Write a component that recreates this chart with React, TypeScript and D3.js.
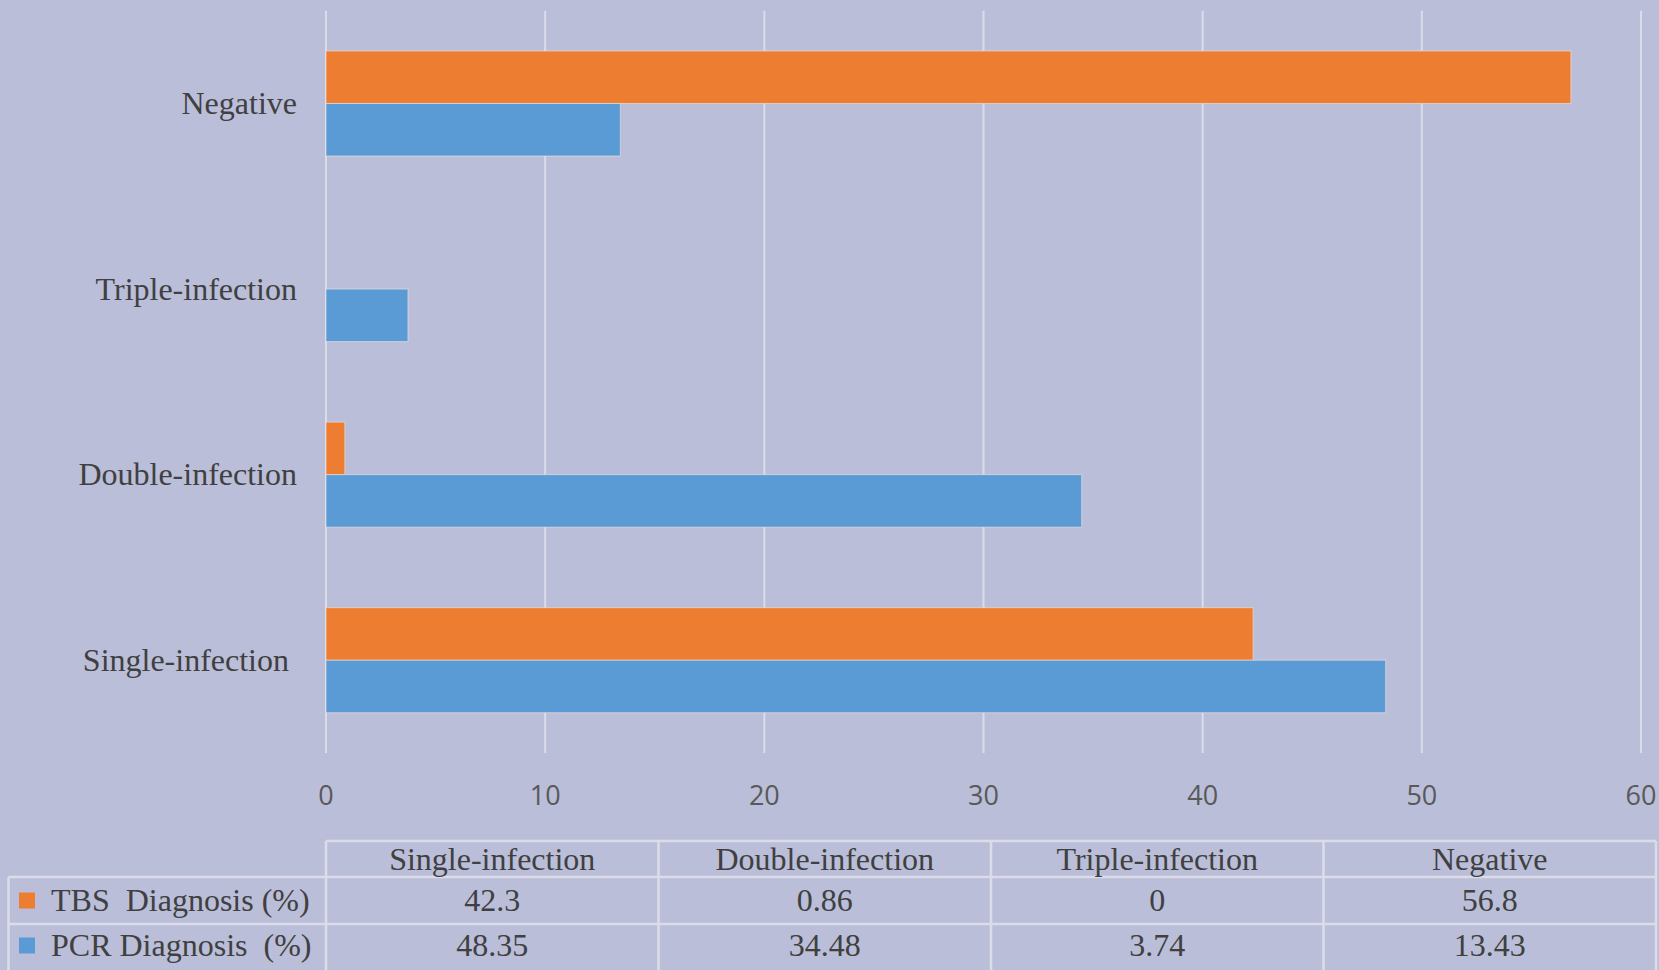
import * as d3 from "d3";

const categories = ["Single-infection", "Double-infection", "Triple-infection", "Negative"];
const seriesNames = ["TBS  Diagnosis (%)", "PCR Diagnosis  (%)"];
const tbsValues = [42.3, 0.86, 0, 56.8];
const pcrValues = [48.35, 34.48, 3.74, 13.43];
const tbsLabels = ["42.3", "0.86", "0", "56.8"];
const pcrLabels = ["48.35", "34.48", "3.74", "13.43"];
const xTicks = [0, 10, 20, 30, 40, 50, 60];

const W = 1659;
const H = 970;
const BG = "#babed9";
const GRID = "#dcdce8";
const ORANGE = "#ed7d31";
const BLUE = "#5b9bd5";
const TEXT = "#404040";
const SERIF = "'Liberation Serif', 'Times New Roman', serif";
const SANS = "'Open Sans', 'Liberation Sans', sans-serif";

export default function App() {
  const x = d3.scaleLinear().domain([0, 60]).range([326, 1641]);
  // top-to-bottom: Negative first
  const y = d3.scaleBand<string>()
    .domain([...categories].reverse())
    .range([10.7, 753])
    .paddingInner(0.434)
    .paddingOuter(0.217);
  const inner = d3.scaleBand<number>().domain([0, 1]).range([0, y.bandwidth()]);

  const series = [
    { name: seriesNames[0], values: tbsValues, labels: tbsLabels, color: ORANGE },
    { name: seriesNames[1], values: pcrValues, labels: pcrLabels, color: BLUE },
  ];

  // table layout
  const colX = d3.scaleBand<string>().domain(categories).range([326, 1656]);
  const tableLeft = 8.5;
  const rowTops = [841, 877, 924, 971];

  return (
    <div style={{ position: "absolute", left: 0, top: 0, width: W, height: H }}>
      <svg width={W} height={H} style={{ display: "block" }}>
        <rect x={0} y={0} width={W} height={H} fill={BG} />

        {/* grid lines */}
        <g>
          {xTicks.map((t) => (
            <line key={t} x1={x(t)} x2={x(t)} y1={10.7} y2={753} stroke={GRID} strokeWidth={2} />
          ))}
        </g>

        {/* bars */}
        <g>
          {series.map((s, si) =>
            categories.map((c, ci) => {
              const v = s.values[ci];
              if (v <= 0) return null;
              return (
                <rect
                  key={`${si}-${ci}`}
                  x={x(0)}
                  y={(y(c) ?? 0) + (inner(si) ?? 0)}
                  width={x(v) - x(0)}
                  height={inner.bandwidth()}
                  fill={s.color}
                  stroke="#f0e6e0"
                  strokeOpacity={0.6}
                  strokeWidth={1}
                />
              );
            })
          )}
        </g>

        {/* category labels */}
        <g fontFamily={SERIF} fontSize={32} fill={TEXT} textAnchor="end">
          {categories.map((c) => (
            <text key={c} x={c === "Single-infection" ? 289 : 297} y={(y(c) ?? 0) + y.bandwidth() / 2} dy="0.33em">
              {c}
            </text>
          ))}
        </g>

        {/* x tick labels */}
        <g fontFamily={SANS} fontSize={27} fill="#595959" textAnchor="middle">
          {xTicks.map((t) => (
            <text key={t} x={x(t)} y={796} dy="0.35em">
              {t}
            </text>
          ))}
        </g>

        {/* data table */}
        <g stroke={GRID} strokeWidth={2.5} fill="none">
          {/* header row top */}
          <line x1={colX.range()[0]} x2={colX.range()[1]} y1={rowTops[0]} y2={rowTops[0]} />
          {/* row separators */}
          <line x1={tableLeft} x2={colX.range()[1]} y1={rowTops[1]} y2={rowTops[1]} />
          <line x1={tableLeft} x2={colX.range()[1]} y1={rowTops[2]} y2={rowTops[2]} />
          {/* left border */}
          <line x1={tableLeft} x2={tableLeft} y1={rowTops[1]} y2={H} />
          {/* column borders */}
          {categories.map((c) => (
            <line key={c} x1={colX(c)} x2={colX(c)} y1={rowTops[0]} y2={H} />
          ))}
          <line x1={colX.range()[1]} x2={colX.range()[1]} y1={rowTops[0]} y2={H} />
        </g>

        <g fontFamily={SERIF} fontSize={32} fill={TEXT} textAnchor="middle">
          {categories.map((c) => (
            <text key={c} x={(colX(c) ?? 0) + colX.bandwidth() / 2} y={(rowTops[0] + rowTops[1]) / 2} dy="0.33em">
              {c}
            </text>
          ))}
          {series.map((s, si) =>
            s.labels.map((l, ci) => (
              <text
                key={`${si}-${ci}`}
                x={(colX(categories[ci]) ?? 0) + colX.bandwidth() / 2}
                y={(rowTops[si + 1] + rowTops[si + 2]) / 2 - (si === 1 ? 2 : 0)}
                dy="0.33em"
              >
                {l}
              </text>
            ))
          )}
        </g>

        {/* legend keys in table */}
        <g>
          {series.map((s, si) => {
            const cy = (rowTops[si + 1] + rowTops[si + 2]) / 2 - (si === 1 ? 2 : 0);
            return (
              <g key={s.name}>
                <rect x={19} y={cy - 8} width={16} height={16} fill={s.color} />
                <text
                  x={51}
                  y={cy}
                  dy="0.33em"
                  fontFamily={SERIF}
                  fontSize={32}
                  fill={TEXT}
                  style={{ whiteSpace: "pre" }}
                >
                  {s.name}
                </text>
              </g>
            );
          })}
        </g>
      </svg>
    </div>
  );
}
